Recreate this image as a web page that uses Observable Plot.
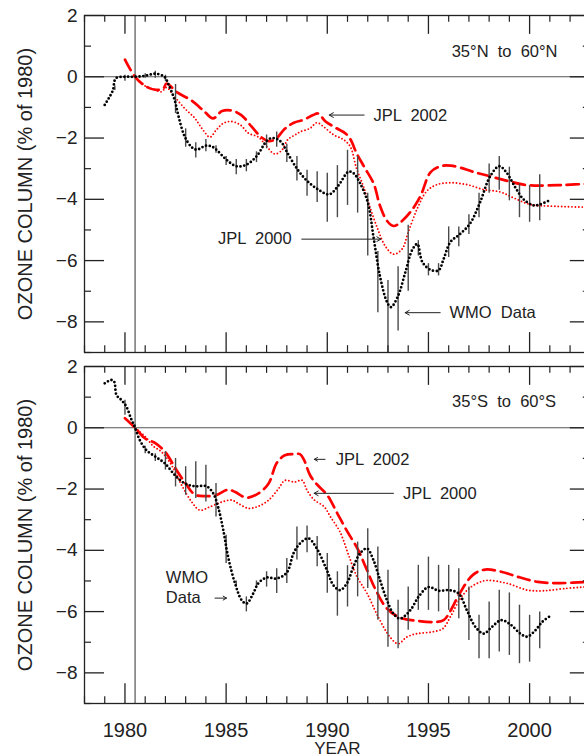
<!DOCTYPE html>
<html><head><meta charset="utf-8">
<script src="https://cdn.jsdelivr.net/npm/d3@7"></script>
<script src="https://cdn.jsdelivr.net/npm/@observablehq/plot@0.6"></script>
<style>
body{margin:0;background:#fff;}
#chart{width:584px;height:756px;overflow:hidden;}
</style></head><body><div id="chart"></div>
<script>
// ---------- data (year, % change relative to 1980) ----------
const nhWmo = [[1979.0,-0.92],[1979.2,-0.7],[1979.4,-0.45],[1979.55,-0.05],[1980.0,0.0],[1980.5,0.0],[1981.0,0.03],[1981.5,0.1],[1981.95,0.0],[1982.15,-0.25],[1982.45,-0.75],[1982.65,-1.3],[1982.95,-1.95],[1983.3,-2.3],[1983.55,-2.38],[1984.0,-2.25],[1984.3,-2.28],[1984.55,-2.4],[1985.0,-2.7],[1985.5,-2.92],[1986.0,-2.87],[1986.5,-2.6],[1987.0,-2.1],[1987.25,-2.0],[1987.5,-2.03],[1987.75,-2.15],[1988.0,-2.45],[1988.5,-3.0],[1989.0,-3.4],[1989.55,-3.68],[1990.1,-3.84],[1990.55,-3.55],[1991.05,-3.1],[1991.3,-3.15],[1991.6,-3.45],[1992.0,-4.1],[1992.3,-5.3],[1992.6,-6.5],[1992.95,-7.35],[1993.15,-7.52],[1993.5,-7.15],[1993.85,-6.4],[1994.2,-5.65],[1994.45,-5.46],[1994.7,-6.05],[1995.1,-6.3],[1995.5,-6.32],[1995.75,-5.95],[1996.08,-5.4],[1996.55,-5.14],[1997.05,-4.8],[1997.55,-4.1],[1998.05,-3.25],[1998.5,-2.92],[1998.85,-3.12],[1999.3,-3.62],[1999.7,-4.0],[2000.2,-4.2],[2000.5,-4.17],[2001.0,-4.03]];
const nhWmoErr = [[1979.5,-0.3,-0.45],[1980.0,0.05,-0.15],[1980.5,0.05,-0.05],[1981.0,0.1,-0.05],[1981.5,0.18,-0.05],[1982.0,0.05,-0.15],[1982.5,-0.25,-1.2],[1983.0,-1.7,-2.3],[1983.5,-2.15,-2.65],[1984.0,-2.05,-2.45],[1984.5,-2.25,-2.5],[1985.0,-2.6,-2.9],[1985.5,-2.7,-3.2],[1986.0,-2.7,-3.1],[1986.5,-2.45,-2.8],[1987.0,-1.9,-2.35],[1987.5,-1.8,-2.3],[1988.0,-2.2,-2.8],[1988.5,-2.6,-3.4],[1989.0,-3.05,-3.9],[1989.5,-3.1,-4.1],[1990.0,-3.15,-4.75],[1990.5,-2.9,-4.6],[1991.0,-2.4,-4.2],[1991.5,-2.6,-4.45],[1992.0,-3.8,-5.85],[1992.5,-5.7,-7.7],[1993.0,-6.65,-9.0],[1993.5,-6.2,-8.3],[1994.0,-4.85,-7.0],[1994.5,-5.35,-5.85],[1995.0,-6.1,-6.5],[1995.5,-6.1,-6.5],[1996.0,-4.9,-5.9],[1996.5,-4.9,-5.55],[1997.0,-4.5,-5.15],[1997.5,-3.8,-4.6],[1998.0,-2.85,-3.8],[1998.5,-2.6,-3.7],[1999.0,-2.95,-4.05],[1999.5,-3.5,-4.6],[2000.0,-3.55,-4.75],[2000.5,-3.2,-4.7]];
const nhJpl2002 = [[1980.0,0.56],[1980.5,0.0],[1981.05,-0.32],[1981.55,-0.43],[1981.9,-0.38],[1982.05,-0.22],[1982.6,-0.52],[1983.3,-0.78],[1983.95,-1.15],[1984.35,-1.36],[1984.8,-1.12],[1985.25,-1.1],[1985.75,-1.25],[1986.25,-1.62],[1986.75,-1.98],[1987.1,-2.1],[1987.45,-2.03],[1987.9,-1.7],[1988.35,-1.5],[1988.85,-1.4],[1989.3,-1.25],[1989.55,-1.2],[1989.9,-1.45],[1990.4,-1.66],[1990.9,-1.85],[1991.15,-2.05],[1991.45,-2.5],[1991.85,-2.97],[1992.3,-3.5],[1992.6,-4.2],[1992.95,-4.7],[1993.27,-4.87],[1993.6,-4.76],[1994.1,-4.42],[1994.6,-3.9],[1995.1,-3.12],[1995.6,-2.92],[1996.1,-2.9],[1996.6,-2.97],[1997.2,-3.1],[1998.05,-3.25],[1998.9,-3.4],[1999.7,-3.52],[2000.5,-3.55],[2001.7,-3.53],[2003.0,-3.49]];
const nhJpl2000 = [[1980.5,0.0],[1981.0,-0.3],[1981.5,-0.43],[1981.8,-0.49],[1982.05,-0.35],[1982.45,-0.65],[1982.95,-1.03],[1983.45,-1.35],[1983.85,-1.73],[1984.2,-1.97],[1984.5,-1.75],[1984.85,-1.52],[1985.25,-1.46],[1985.7,-1.57],[1986.1,-1.84],[1986.6,-1.97],[1987.0,-2.27],[1987.4,-2.52],[1987.75,-2.4],[1988.05,-2.05],[1988.4,-1.9],[1988.65,-1.8],[1989.15,-1.68],[1989.48,-1.5],[1989.8,-1.62],[1990.3,-1.89],[1990.8,-2.05],[1991.13,-2.27],[1991.45,-3.0],[1991.8,-3.6],[1992.12,-4.28],[1992.5,-4.98],[1992.86,-5.52],[1993.27,-5.79],[1993.69,-5.63],[1994.0,-5.08],[1994.43,-4.33],[1994.92,-3.73],[1995.42,-3.52],[1996.08,-3.46],[1996.9,-3.52],[1997.73,-3.68],[1998.55,-3.76],[1999.2,-3.95],[2000.04,-4.17],[2001.0,-4.22],[2003.0,-4.26]];

const shWmo = [[1979.0,1.45],[1979.33,1.56],[1979.47,1.5],[1979.58,1.07],[1979.83,0.9],[1980.07,0.69],[1980.3,0.3],[1980.5,0.0],[1980.73,-0.4],[1981.06,-0.73],[1981.56,-0.97],[1981.97,-1.16],[1982.47,-1.55],[1982.96,-1.82],[1983.46,-1.91],[1984.03,-1.91],[1984.36,-2.14],[1984.6,-2.58],[1984.86,-3.34],[1985.1,-4.22],[1985.44,-5.08],[1985.77,-5.63],[1986.01,-5.74],[1986.34,-5.41],[1986.59,-5.08],[1987.0,-4.89],[1987.5,-4.92],[1988.0,-4.73],[1988.33,-4.1],[1988.65,-3.78],[1989.06,-3.61],[1989.48,-3.94],[1989.98,-4.65],[1990.3,-5.14],[1990.63,-5.3],[1990.97,-5.08],[1991.29,-4.54],[1991.62,-4.1],[1991.96,-3.94],[1992.28,-4.32],[1992.61,-4.98],[1992.95,-5.63],[1993.27,-6.07],[1993.6,-6.23],[1994.1,-5.96],[1994.51,-5.52],[1995.0,-5.2],[1995.5,-5.32],[1996.0,-5.3],[1996.49,-5.41],[1996.9,-5.96],[1997.32,-6.5],[1997.73,-6.72],[1998.14,-6.5],[1998.6,-6.28],[1999.05,-6.42],[1999.54,-6.72],[1999.88,-6.82],[2000.29,-6.61],[2000.62,-6.34],[2001.03,-6.14]];
const shWmoErr = [[1980.0,0.9,0.41],[1980.5,0.1,-0.1],[1981.0,-0.6,-0.85],[1981.5,-0.85,-1.1],[1982.0,-0.78,-1.38],[1982.5,-1.0,-1.93],[1983.0,-1.27,-2.2],[1983.5,-1.11,-2.31],[1984.0,-1.22,-2.42],[1984.5,-1.82,-2.91],[1985.0,-3.51,-4.43],[1985.5,-5.0,-5.2],[1986.0,-5.52,-6.01],[1986.5,-5.0,-5.2],[1987.0,-4.7,-5.2],[1987.5,-4.6,-5.41],[1988.0,-4.27,-5.08],[1988.5,-3.24,-4.32],[1989.0,-3.21,-4.08],[1989.5,-3.55,-4.54],[1990.0,-4.1,-5.4],[1990.5,-4.7,-6.15],[1991.0,-4.5,-5.85],[1991.5,-3.73,-5.52],[1992.0,-3.3,-5.25],[1992.5,-3.89,-6.28],[1993.0,-4.65,-7.16],[1993.5,-5.63,-7.21],[1994.0,-5.2,-6.61],[1994.5,-4.49,-5.96],[1995.0,-4.22,-5.96],[1995.5,-4.49,-6.01],[1996.0,-4.49,-5.96],[1996.5,-4.6,-6.23],[1997.0,-5.2,-6.94],[1997.5,-6.12,-7.54],[1998.0,-5.69,-7.54],[1998.5,-5.3,-7.32],[1999.0,-5.39,-7.43],[1999.5,-5.79,-7.7],[2000.0,-6.12,-7.65],[2000.5,-6.01,-7.21]];
const shJpl2002 = [[1980.0,0.31],[1980.5,0.0],[1981.0,-0.35],[1981.5,-0.5],[1982.0,-0.8],[1982.5,-1.33],[1983.0,-1.82],[1983.45,-2.18],[1983.95,-2.23],[1984.5,-2.2],[1985.1,-2.02],[1985.45,-2.1],[1986.0,-2.28],[1986.6,-2.14],[1987.1,-1.82],[1987.5,-1.15],[1987.9,-0.9],[1988.4,-0.86],[1988.65,-0.86],[1988.85,-1.05],[1989.15,-1.55],[1989.45,-1.82],[1990.0,-2.2],[1990.5,-2.8],[1991.0,-3.4],[1991.5,-3.95],[1991.9,-4.55],[1992.4,-5.3],[1992.95,-5.9],[1993.6,-6.2],[1994.4,-6.3],[1995.25,-6.34],[1995.75,-6.28],[1996.1,-5.96],[1996.55,-5.4],[1997.2,-4.8],[1997.8,-4.63],[1998.6,-4.7],[1999.5,-4.88],[2000.4,-5.03],[2001.5,-5.07],[2003.0,-5.02]];
const shJpl2000 = [[1980.5,0.0],[1981.0,-0.29],[1981.4,-0.6],[1981.8,-0.78],[1982.3,-1.22],[1982.8,-1.87],[1983.3,-2.42],[1983.7,-2.69],[1984.2,-2.58],[1984.8,-2.42],[1985.27,-2.36],[1985.6,-2.47],[1986.1,-2.63],[1986.6,-2.56],[1987.1,-2.36],[1987.6,-1.98],[1987.9,-1.72],[1988.4,-1.77],[1988.75,-1.71],[1989.0,-2.04],[1989.35,-2.35],[1989.85,-2.58],[1990.15,-2.9],[1990.63,-3.4],[1991.05,-4.15],[1991.46,-4.85],[1991.96,-5.4],[1992.5,-6.15],[1993.1,-6.83],[1993.5,-7.05],[1993.93,-6.83],[1994.43,-6.72],[1995.1,-6.67],[1995.7,-6.56],[1996.1,-6.15],[1996.55,-5.6],[1997.0,-5.25],[1997.5,-5.05],[1997.9,-4.98],[1998.9,-5.08],[1999.9,-5.3],[2000.7,-5.32],[2001.7,-5.25],[2003.0,-5.18]];

// tick values
const yearTicks = [1980, 1985, 1990, 1995, 2000];
const valueTicks = [-8, -6, -4, -2, 0, 2];
const refYear = 1980.5;

// annotations (anchored in data coordinates)
const nhNotes = [
  {text: "35°N  to  60°N", year: 2001.38, value: 0.81, anchor: "end"},
  {text: "JPL  2002", year: 1992.28, value: -1.26, anchor: "start"},
  {text: "JPL  2000", year: 1988.24, value: -5.3, anchor: "end"},
  {text: "WMO  Data", year: 1996.04, value: -7.7, anchor: "start"}
];
const nhArrows = [
  {from: 1991.82, to: 1990.1, value: -1.25},
  {from: 1988.74, to: 1992.65, value: -5.3},
  {from: 1995.58, to: 1993.85, value: -7.7}
];
const shNotes = [
  {text: "35°S  to  60°S", year: 2001.31, value: 0.85, anchor: "end"},
  {text: "JPL  2002", year: 1990.42, value: -1.03, anchor: "start"},
  {text: "JPL  2000", year: 1993.74, value: -2.14, anchor: "start"},
  {text: "WMO", year: 1982.02, value: -4.88, anchor: "start"},
  {text: "Data", year: 1982.02, value: -5.56, anchor: "start"}
];
const shArrows = [
  {from: 1989.89, to: 1989.36, value: -1.03},
  {from: 1993.27, to: 1989.35, value: -2.14},
  {from: 1984.45, to: 1985.02, value: -5.56}
];

// ---------- tables ----------
const toRows = (arr, panel, series) => arr.map(([year, value]) => ({panel, series, year, value}));
const lines = [
  ...toRows(nhWmo, "N", "WMO"), ...toRows(nhJpl2002, "N", "JPL2002"), ...toRows(nhJpl2000, "N", "JPL2000"),
  ...toRows(shWmo, "S", "WMO"), ...toRows(shJpl2002, "S", "JPL2002"), ...toRows(shJpl2000, "S", "JPL2000")
];
const errs = [
  ...nhWmoErr.map(([year, hi, lo]) => ({panel: "N", year, hi, lo})),
  ...shWmoErr.map(([year, hi, lo]) => ({panel: "S", year, hi, lo}))
];
const notes = [...nhNotes.map(d => ({...d, panel: "N"})), ...shNotes.map(d => ({...d, panel: "S"}))];
const arrows = [...nhArrows.map(d => ({...d, panel: "N"})), ...shArrows.map(d => ({...d, panel: "S"}))];

// ---------- layout ----------
const W = 584, H = 756, ML = 84, MR = -5.8, MT = 15, MB = 52.7;
const PAD = 0.04;
const FW = W - ML - MR;
const FH = (H - MT - MB) * (1 - PAD) / (2 - PAD);
const allYears = d3.range(1978, 2004);
const minorYears = allYears.filter(y => y % 5 !== 0);
const majorYears = allYears.filter(y => y % 5 === 0);
const minorValues = [-9, -7, -5, -3, -1, 1];
const AX = "#222";
const fmt = d => d < 0 ? "\u2212" + (-d) : String(d);

const chart = Plot.plot({
  width: W, height: H,
  marginLeft: ML, marginRight: MR, marginTop: MT, marginBottom: MB,
  style: {fontFamily: "'Liberation Sans', Arial, Helvetica, sans-serif", color: "#222", background: "#fff"},
  x: {domain: [1978, 2003]},
  y: {domain: [-9, 2]},
  fy: {domain: ["N", "S"], axis: null, paddingInner: PAD, paddingOuter: 0},
  marks: [
    Plot.ruleY([0], {stroke: "#555", strokeWidth: 1.2}),
    Plot.ruleX([refYear], {stroke: "#555", strokeWidth: 1.2}),
    Plot.line(lines, {filter: d => d.series === "JPL2000", x: "year", y: "value", fy: "panel", z: "panel",
      stroke: "#f00", strokeWidth: 1.9, strokeDasharray: "0 3.4", strokeLinecap: "round", curve: "catmull-rom"}),
    Plot.line(lines, {filter: d => d.series === "JPL2002", x: "year", y: "value", fy: "panel", z: "panel",
      stroke: "#f00", strokeWidth: 2.7, strokeDasharray: "12 6", curve: "catmull-rom"}),
    Plot.ruleX(errs, {x: "year", y1: "lo", y2: "hi", fy: "panel", stroke: "#4a4a4a", strokeWidth: 1.4}),
    Plot.line(lines, {filter: d => d.series === "WMO", x: "year", y: "value", fy: "panel", z: "panel",
      stroke: "#000", strokeWidth: 2.8, strokeDasharray: "0 3.8", strokeLinecap: "round", curve: "catmull-rom"}),
    // tick marks (inward)
    Plot.tickX(minorYears, {x: d => d, insetBottom: FH - 7, stroke: AX, strokeWidth: 1.2}),
    Plot.tickX(minorYears, {x: d => d, insetTop: FH - 7, stroke: AX, strokeWidth: 1.2}),
    Plot.tickX(majorYears, {x: d => d, insetBottom: FH - 19, stroke: AX, strokeWidth: 1.3}),
    Plot.tickX(majorYears, {x: d => d, insetTop: FH - 20, stroke: AX, strokeWidth: 1.3}),
    Plot.tickY(valueTicks, {y: d => d, insetRight: FW - 20, stroke: AX, strokeWidth: 1.3}),
    Plot.tickY(valueTicks, {y: d => d, insetLeft: FW - 20, stroke: AX, strokeWidth: 1.3}),
    Plot.tickY(minorValues, {y: d => d, insetRight: FW - 7, stroke: AX, strokeWidth: 1.2}),
    Plot.tickY(minorValues, {y: d => d, insetLeft: FW - 7, stroke: AX, strokeWidth: 1.2}),
    Plot.frame({stroke: AX, strokeWidth: 1.3}),
    Plot.axisY({ticks: valueTicks, tickSize: 0, tickPadding: 7, fontSize: 19, tickFormat: fmt, label: null}),
    Plot.axisX({ticks: yearTicks, tickSize: 0, tickPadding: 19, fontSize: 20, tickFormat: d => String(d), label: null}),
    Plot.text(["OZONE COLUMN (% of 1980)"], {frameAnchor: "left", textAnchor: "middle", lineAnchor: "middle",
      rotate: -90, dx: -59, fontSize: 20, fill: "#222", letterSpacing: "0.3px"}),
    Plot.text(["YEAR"], {fy: () => "S", frameAnchor: "bottom", textAnchor: "middle", lineAnchor: "bottom",
      dy: 50, fontSize: 17, fill: "#222"}),
    // annotations
    Plot.text(notes, {filter: d => d.anchor === "start", x: "year", y: "value", text: "text", fy: "panel",
      textAnchor: "start", fontSize: 16.5, fill: "#222", letterSpacing: "0.6px"}),
    Plot.text(notes, {filter: d => d.anchor === "end", x: "year", y: "value", text: "text", fy: "panel",
      textAnchor: "end", fontSize: 16.5, fill: "#222", letterSpacing: "0.6px"}),
    Plot.arrow(arrows, {x1: "from", x2: "to", y1: "value", y2: "value", fy: "panel",
      stroke: "#222", strokeWidth: 1, headLength: 7, headAngle: 60})
  ]
});
document.getElementById("chart").appendChild(chart);
</script>
</body></html>
